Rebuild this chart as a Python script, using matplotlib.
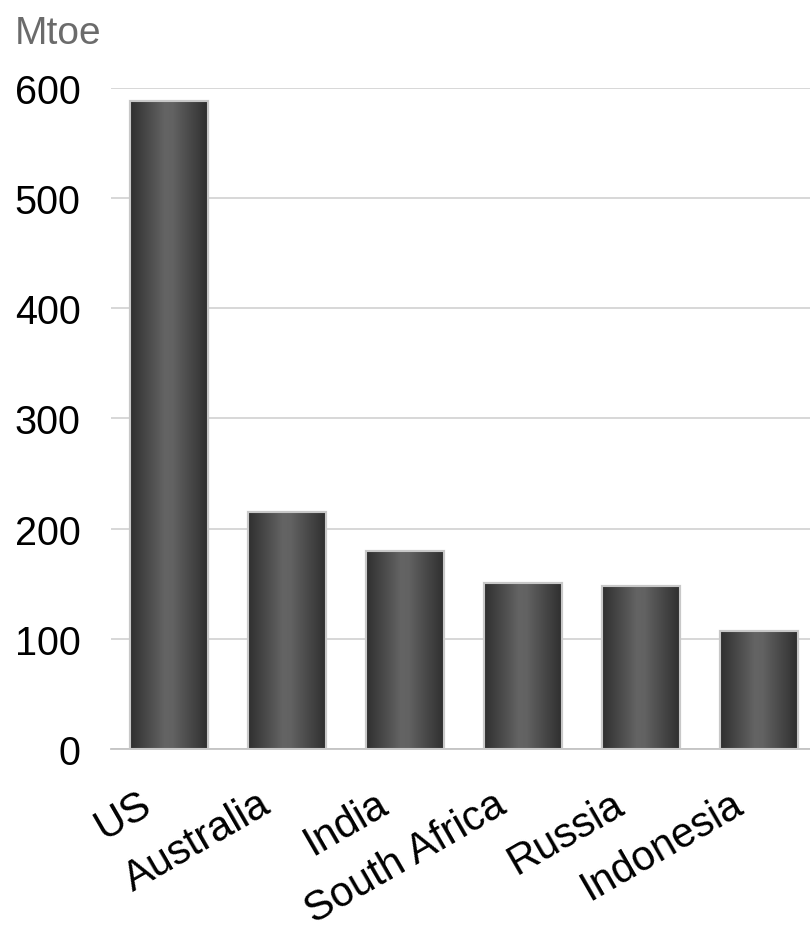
import numpy as np
import matplotlib
matplotlib.use("Agg")
import matplotlib.pyplot as plt
from matplotlib.colors import LinearSegmentedColormap
from matplotlib.transforms import ScaledTranslation

# coal production by country, Mtoe
countries = ["US", "Australia", "India", "South Africa", "Russia", "Indonesia"]
values = [588, 215, 180, 151, 148, 107]
yticks = [0, 100, 200, 300, 400, 500, 600]

plt.rcParams['font.family'] = ['Liberation Sans', 'DejaVu Sans']

fig = plt.figure(figsize=(8.1, 9.28), dpi=100)
ax = fig.add_axes([0.137, 0.192, 0.863, 0.712])

x = np.arange(len(countries))
bars = ax.bar(x, values, width=0.66, color='#4a4a4a', edgecolor='#c8c8c8',
              linewidth=1.5, zorder=3)

# horizontal shading: dark edges, lighter middle
shade = LinearSegmentedColormap.from_list(
    'shade', [(0, '#2f2f2f'), (0.45, '#646464'), (0.55, '#626262'), (1, '#2f2f2f')])
grad = np.linspace(0, 1, 256)
grad = np.vstack([grad, grad])
for b in bars:
    x0, w, h = b.get_x(), b.get_width(), b.get_height()
    im = ax.imshow(grad, cmap=shade, vmin=0, vmax=1, aspect='auto',
                   extent=[x0, x0 + w, 0, h], zorder=3.5, interpolation='bilinear')
    im.set_clip_path(b)
    ax.bar(b.get_x() + w / 2, h, width=w, fill=False, edgecolor='#c8c8c8',
           linewidth=1.5, zorder=4)

ax.set_xlim(-0.49, 5.43)
ax.set_ylim(0, 600)
ax.set_yticks(yticks)
ax.yaxis.grid(True, color='#d4d4d4', linewidth=1.3, zorder=0)
ax.set_axisbelow(True)

for s in ['top', 'right', 'left']:
    ax.spines[s].set_visible(False)
ax.spines['bottom'].set_color('#c4c4c4')
ax.spines['bottom'].set_linewidth(1.3)

ax.tick_params(axis='y', length=0, pad=22, labelsize=28.5)
ax.tick_params(axis='x', length=0, pad=25, labelsize=30)
ax.set_xticks(x)
ax.set_xticklabels(countries, rotation=30, ha='right', rotation_mode='anchor')
for lab in ax.get_xticklabels():
    lab.set_transform(lab.get_transform() + ScaledTranslation(-0.3, 0, fig.dpi_scale_trans))

fig.text(15 / 810, 1 - 16 / 928, "Mtoe", color='#6b6b6b', fontsize=28,
         ha='left', va='top')

fig.savefig("out.png", dpi=100)
